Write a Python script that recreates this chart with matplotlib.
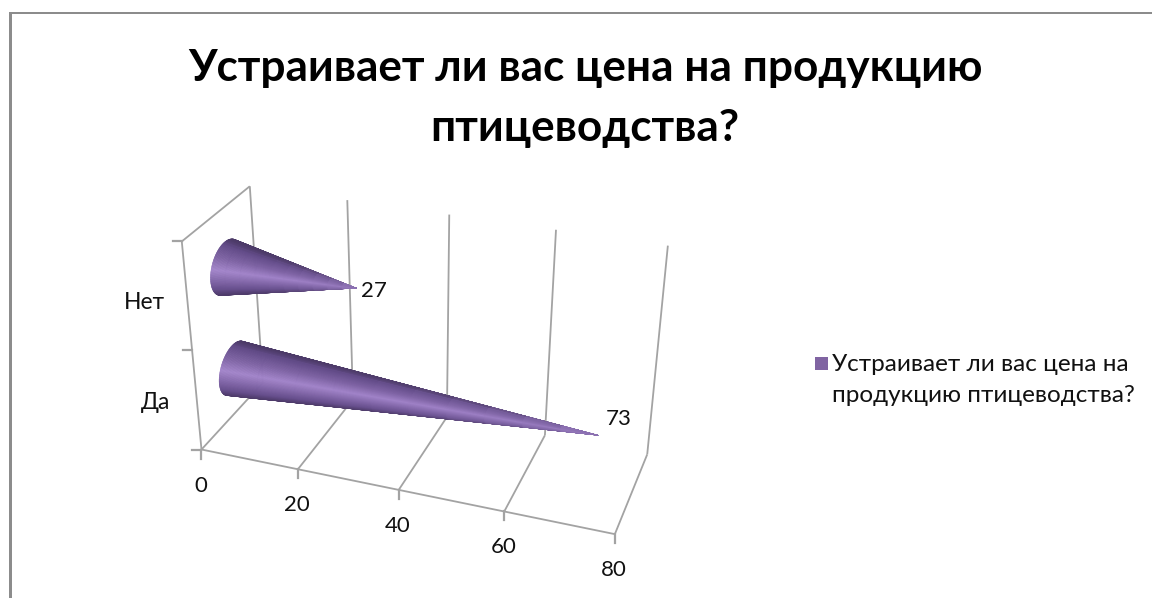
#!/usr/bin/env python
"""3D cone bar chart: survey answers about poultry product prices."""
import numpy as np
import matplotlib
matplotlib.use("Agg")
import matplotlib.pyplot as plt
from matplotlib.collections import PolyCollection
from matplotlib.colors import LinearSegmentedColormap, to_rgba
from matplotlib.patches import Rectangle

TITLE = "Устраивает ли вас цена на продукцию\nптицеводства?"
LEGEND = "Устраивает ли вас цена на\nпродукцию птицеводства?"
categories = ["Да", "Нет"]
values = [73, 27]
value_ticks = [0, 20, 40, 60, 80]

GRID = "#a3a3a3"
FONT = ["Lato", "Noto Sans", "DejaVu Sans"]
W, H = 1152, 598

# model space is (value, category, depth); screen calibration points for the box
calib = [
    ((0, 0, 0), (201, 447)), ((20, 0, 0), (299, 468)), ((40, 0, 0), (398, 490)),
    ((60, 0, 0), (504, 513)), ((80, 0, 0), (615, 536)), ((0, 2, 0), (182, 242)),
    ((0, 0, 1), (263, 388)), ((20, 0, 1), (352, 400)), ((40, 0, 1), (447, 415)),
    ((60, 0, 1), (546, 433)), ((80, 0, 1), (647, 453)), ((0, 2, 1), (250, 186)),
    ((20, 2, 1), (347, 198)), ((40, 2, 1), (450, 214)), ((60, 2, 1), (555, 230)),
    ((80, 2, 1), (668, 248)),
]


def fit_camera(pairs):
    rows, rhs = [], []
    for (x, y, z), (u, v) in pairs:
        rows.append([x, y, z, 1, 0, 0, 0, 0, -u * x, -u * y, -u * z])
        rhs.append(u)
        rows.append([0, 0, 0, 0, x, y, z, 1, -v * x, -v * y, -v * z])
        rhs.append(v)
    p = np.linalg.lstsq(np.array(rows, float), np.array(rhs, float), rcond=None)[0]
    return np.append(p, 1.0).reshape(3, 4)


CAM = fit_camera(calib)


def proj(x, y, z):
    q = CAM @ np.array([x, y, z, 1.0])
    return q[:2] / q[2]


def line3(ax, a, b, lw=1.3):
    p, q = proj(*a), proj(*b)
    ax.plot([p[0], q[0]], [p[1], q[1]], color=GRID, lw=lw, solid_capstyle="butt", zorder=1)


cone_cmap = LinearSegmentedColormap.from_list(
    "cone",
    [(0.0, "#4c3a68"), (0.12, "#634c89"), (0.35, "#7d62a3"), (0.58, "#a284ca"),
     (0.78, "#7f64a6"), (0.92, "#664e8c"), (1.0, "#4e3b6a")],
)
TIP_COLOR = np.array(to_rgba("#9276b8"))


def draw_cone(ax, value, cat, radius=0.235, depth=0.5, start=1.0, n=240, steps=10):
    # base circle lies in the (category, depth) plane, tip sits at the value
    th = np.linspace(0, 2 * np.pi, n + 1)
    rim = np.array([proj(start, cat + radius * np.cos(t), depth + radius * np.sin(t)) for t in th])
    tip = proj(value, cat, depth)
    centre = proj(start, cat, depth)

    def side(i):
        a, b = rim[i] - tip, rim[i + 1] - tip
        return a[0] * b[1] - a[1] * b[0]

    # keep the triangles wound like the one nearest the viewer (depth - radius)
    near = side(int(n * 0.75))
    keep = [i for i in range(n) if side(i) * near > 0]

    # colour runs across the silhouette, measured off the cone axis on screen
    axis = (tip - centre) / np.linalg.norm(tip - centre)
    normal = np.array([-axis[1], axis[0]])
    if normal[1] < 0:
        normal = -normal
    off = np.array([(rim[i] - centre) @ normal for i in keep])
    t = (off - off.min()) / (off.max() - off.min())
    base_cols = cone_cmap(t)

    # each sliver is cut along its length so the shading washes out towards the tip
    polys, cols = [], []
    edges = np.linspace(0, 1, steps + 1)
    for k, i in enumerate(keep):
        a, b = rim[i], rim[i + 1]
        for s0, s1 in zip(edges[:-1], edges[1:]):
            polys.append([a + (tip - a) * s0, b + (tip - b) * s0, b + (tip - b) * s1, a + (tip - a) * s1])
            mix = ((s0 + s1) / 2) ** 3
            cols.append(base_cols[k] * (1 - mix) + TIP_COLOR * mix)
    ax.add_collection(PolyCollection(polys, facecolors=cols, edgecolors=cols, linewidths=0.35, zorder=2))


fig = plt.figure(figsize=(W / 100, H / 100), dpi=100)
ax = fig.add_axes([0, 0, 1, 1])
ax.set_xlim(0, W)
ax.set_ylim(H, 0)
ax.set_axis_off()

# outer frame, only top and left edges fall inside the canvas
ax.add_patch(Rectangle((9, 12), 3, H - 12, color="#8c8c8c", lw=0))
ax.add_patch(Rectangle((9, 12), W - 9, 2, color="#8c8c8c", lw=0))

# walls and floor
top = len(categories)
for v in value_ticks:
    line3(ax, (v, 0, 1), (v, top, 1))
    line3(ax, (v, 0, 0), (v, 0, 1))
    p = proj(v, 0, 0)
    ax.plot([p[0], p[0]], [p[1], p[1] + 9], color=GRID, lw=1.6, zorder=1)
    ax.text(p[0] - 1, p[1] + 36, str(v), ha="center", va="center", fontsize=16, family=FONT, color="#111111")
line3(ax, (0, 0, 0), (80, 0, 0))
line3(ax, (0, 0, 0), (0, top, 0))
line3(ax, (0, top, 0), (0, top, 1))
for h in range(top + 1):
    p = proj(0, h, 0)
    ax.plot([p[0] - 9, p[0]], [p[1], p[1]], color=GRID, lw=1.6, zorder=1)

# cones and labels
value_offset = {"Да": (21, -16), "Нет": (18, 3)}
cat_offset = {"Да": (-41, 2), "Нет": (-43, 6)}
for i, (cat, val) in enumerate(zip(categories, values)):
    draw_cone(ax, val, i + 0.5)
    tip = proj(val, i + 0.5, 0.5)
    dx, dy = value_offset[cat]
    ax.text(tip[0] + dx, tip[1] + dy, str(val), ha="center", va="center", fontsize=16, family=FONT, color="#111111")
    p = proj(0, i + 0.5, 0)
    dx, dy = cat_offset[cat]
    ax.text(p[0] + dx, p[1] + dy, cat, ha="center", va="center", fontsize=16.5, family=FONT, color="#111111")

ax.text(585, 98, TITLE, ha="center", va="center", fontsize=31.8, fontweight="bold",
        family=FONT, color="black", linespacing=1.58)

ax.add_patch(Rectangle((815, 357), 13, 13, color="#8064a2", lw=0))
ax.text(832, 380, LEGEND, ha="left", va="center", fontsize=17.5, family=FONT,
        color="#111111", linespacing=1.6)

fig.savefig("out.png", dpi=100, facecolor="white")
